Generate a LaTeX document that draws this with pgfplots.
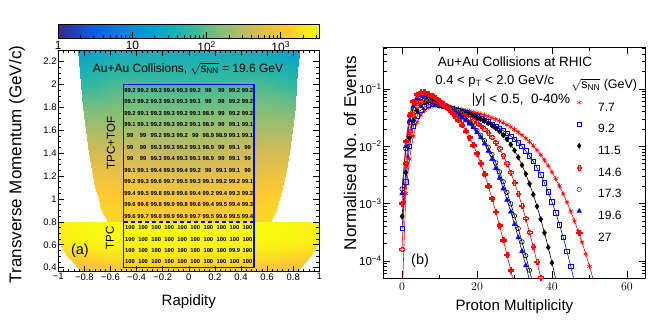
\documentclass[border=0pt]{standalone}
\usepackage{fontspec}
\setmainfont{Liberation Sans}
\usepackage{pgfplots}
\pgfplotsset{compat=1.18}

\newcommand\fs[1]{\fontsize{#1bp}{#1bp}\selectfont}

% ROOT style crosses (open and full)
\def\crosspath{%
  \pgfpathmoveto{\pgfqpoint{-0.35\pgfplotmarksize}{\pgfplotmarksize}}%
  \pgfpathlineto{\pgfqpoint{0.35\pgfplotmarksize}{\pgfplotmarksize}}%
  \pgfpathlineto{\pgfqpoint{0.35\pgfplotmarksize}{0.35\pgfplotmarksize}}%
  \pgfpathlineto{\pgfqpoint{\pgfplotmarksize}{0.35\pgfplotmarksize}}%
  \pgfpathlineto{\pgfqpoint{\pgfplotmarksize}{-0.35\pgfplotmarksize}}%
  \pgfpathlineto{\pgfqpoint{0.35\pgfplotmarksize}{-0.35\pgfplotmarksize}}%
  \pgfpathlineto{\pgfqpoint{0.35\pgfplotmarksize}{-\pgfplotmarksize}}%
  \pgfpathlineto{\pgfqpoint{-0.35\pgfplotmarksize}{-\pgfplotmarksize}}%
  \pgfpathlineto{\pgfqpoint{-0.35\pgfplotmarksize}{-0.35\pgfplotmarksize}}%
  \pgfpathlineto{\pgfqpoint{-\pgfplotmarksize}{-0.35\pgfplotmarksize}}%
  \pgfpathlineto{\pgfqpoint{-\pgfplotmarksize}{0.35\pgfplotmarksize}}%
  \pgfpathlineto{\pgfqpoint{-0.35\pgfplotmarksize}{0.35\pgfplotmarksize}}%
  \pgfpathclose}
\pgfdeclareplotmark{crossopen}{\crosspath\pgfusepathqstroke}
\pgfdeclareplotmark{crossfull}{\crosspath\pgfusepathqfillstroke}

\pgfplotsset{
  rootaxis/.style={scale only axis, axis line style={line width=0.8bp},
    tick align=inside, major tick length=6bp, minor tick length=3bp,
    every tick/.style={black, line width=0.6bp},
    ticklabel style={inner sep=1.5bp}},
  cellnum/.style={only marks, mark=*, mark size=0.01pt, mark options={draw=none, fill=none},
    point meta=explicit symbolic, nodes near coords,
    nodes near coords style={anchor=center, inner sep=0pt, black, font=\fs{5.8}\bfseries}},
  dist/.style={line width=0.6bp, mark size=2.2bp, mark options={solid}},
}

\begin{document}
\begin{tikzpicture}
\useasboundingbox (0,0) rectangle (652bp,326bp);

%%%%%%%%%%%%%%%% (a) acceptance %%%%%%%%%%%%%%%%
\begin{axis}[rootaxis,
  at={(58.3bp,54.3bp)}, anchor=south west, width=261bp, height=221.7bp,
  xmin=-1, xmax=1, ymin=0.365, ymax=2.3,
  xtick={-1,-0.8,-0.6,-0.4,-0.2,0,0.2,0.4,0.6,0.8,1},
  xticklabels={−1,−0.8,−0.6,−0.4,−0.2,0,0.2,0.4,0.6,0.8,1},
  ytick={0.4,0.6,0.8,1,1.2,1.4,1.6,1.8,2,2.2},
  yticklabels={0.4,0.6,0.8,1,1.2,1.4,1.6,1.8,2,2.2},
  minor x tick num=4, minor y tick num=3,
  ticklabel style={font=\fs{9.5}},
  axis on top,
  colormap={bird}{rgb=(0.2082,0.1664,0.5293) rgb=(0.0592,0.3599,0.8684)
    rgb=(0.0780,0.5041,0.8385) rgb=(0.0232,0.6419,0.7914) rgb=(0.1802,0.7178,0.6425)
    rgb=(0.5301,0.7492,0.4662) rgb=(0.8186,0.7328,0.3499) rgb=(0.9956,0.7862,0.1968)
    rgb=(0.9764,0.9832,0.0539)},
  point meta min=0, point meta max=3.52,
  colorbar horizontal,
  colorbar style={
    at={(parent axis.north west)}, anchor=south west, yshift=20.7bp,
    scale only axis, width=261bp, height=13.6bp,
    xtick={0,1,2,3},
    xticklabels={1,10,10\textsuperscript{2},10\textsuperscript{3}},
    minor xtick={0.301,0.477,0.602,0.699,0.778,0.845,0.903,0.954,
      1.301,1.477,1.602,1.699,1.778,1.845,1.903,1.954,
      2.301,2.477,2.602,2.699,2.778,2.845,2.903,2.954,3.301,3.477},
    xtick pos=bottom, xticklabel pos=bottom,
    tick align=inside, major tick length=6bp, minor tick length=3bp,
    every tick/.style={black, line width=0.6bp},
    ticklabel style={font=\fs{12}},
    axis line style={line width=0.6bp}},
  every axis x label/.style={at={(rel axis cs:0.5,-0.1331)}, anchor=center, font=\fs{15}},
  every axis y label/.style={at={(rel axis cs:-0.1582,0.4835)}, rotate=90, anchor=center, font=\fs{17}},
  xlabel={Rapidity}, ylabel={Transverse Momentum (GeV/c)},
]
% TPC only region, log10(counts)
\addplot[surf, shader=interp, mesh/cols=9, point meta=explicit] coordinates {
(-0.83,0.365)[2.9] (-0.6225,0.365)[3.0] (-0.415,0.365)[3.05] (-0.2075,0.365)[3.1] (0,0.365)[3.1] (0.2075,0.365)[3.1] (0.415,0.365)[3.05] (0.6225,0.365)[3.0] (0.83,0.365)[2.9]
(-0.85,0.4)[2.95] (-0.6375,0.4)[3.05] (-0.425,0.4)[3.1] (-0.2125,0.4)[3.15] (0,0.4)[3.15] (0.2125,0.4)[3.15] (0.425,0.4)[3.1] (0.6375,0.4)[3.05] (0.85,0.4)[2.95]
(-0.89,0.45)[3.05] (-0.6675,0.45)[3.15] (-0.445,0.45)[3.2] (-0.2225,0.45)[3.2] (0,0.45)[3.2] (0.2225,0.45)[3.2] (0.445,0.45)[3.2] (0.6675,0.45)[3.15] (0.89,0.45)[3.05]
(-0.93,0.5)[3.15] (-0.6975,0.5)[3.25] (-0.465,0.5)[3.3] (-0.2325,0.5)[3.3] (0,0.5)[3.3] (0.2325,0.5)[3.3] (0.465,0.5)[3.3] (0.6975,0.5)[3.25] (0.93,0.5)[3.15]
(-0.96,0.55)[3.25] (-0.72,0.55)[3.35] (-0.48,0.55)[3.38] (-0.24,0.55)[3.38] (0,0.55)[3.38] (0.24,0.55)[3.38] (0.48,0.55)[3.38] (0.72,0.55)[3.35] (0.96,0.55)[3.25]
(-0.985,0.6)[3.35] (-0.739,0.6)[3.42] (-0.4925,0.6)[3.45] (-0.246,0.6)[3.45] (0,0.6)[3.45] (0.246,0.6)[3.45] (0.4925,0.6)[3.45] (0.739,0.6)[3.42] (0.985,0.6)[3.35]
(-1,0.65)[3.4] (-0.75,0.65)[3.47] (-0.5,0.65)[3.5] (-0.25,0.65)[3.5] (0,0.65)[3.5] (0.25,0.65)[3.5] (0.5,0.65)[3.5] (0.75,0.65)[3.47] (1,0.65)[3.4]
(-1,0.7)[3.42] (-0.75,0.7)[3.5] (-0.5,0.7)[3.52] (-0.25,0.7)[3.52] (0,0.7)[3.52] (0.25,0.7)[3.52] (0.5,0.7)[3.52] (0.75,0.7)[3.5] (1,0.7)[3.42]
(-1,0.8)[3.42] (-0.75,0.8)[3.5] (-0.5,0.8)[3.52] (-0.25,0.8)[3.52] (0,0.8)[3.52] (0.25,0.8)[3.52] (0.5,0.8)[3.52] (0.75,0.8)[3.5] (1,0.8)[3.42]
};
% TPC+TOF region
\addplot[surf, shader=interp, mesh/cols=7, point meta=explicit] coordinates {
(-0.62,0.8)[3.2] (-0.413,0.8)[3.15] (-0.207,0.8)[3.1] (0,0.8)[3.1] (0.207,0.8)[3.1] (0.413,0.8)[3.15] (0.62,0.8)[3.2]
(-0.67,0.9)[3.2] (-0.447,0.9)[3.15] (-0.223,0.9)[3.08] (0,0.9)[3.05] (0.223,0.9)[3.08] (0.447,0.9)[3.15] (0.67,0.9)[3.2]
(-0.69,1.0)[3.15] (-0.46,1.0)[3.08] (-0.23,1.0)[3.0] (0,1.0)[2.97] (0.23,1.0)[3.0] (0.46,1.0)[3.08] (0.69,1.0)[3.15]
(-0.715,1.1)[3.05] (-0.477,1.1)[2.98] (-0.238,1.1)[2.9] (0,1.1)[2.87] (0.238,1.1)[2.9] (0.477,1.1)[2.98] (0.715,1.1)[3.05]
(-0.735,1.2)[2.95] (-0.49,1.2)[2.88] (-0.245,1.2)[2.8] (0,1.2)[2.77] (0.245,1.2)[2.8] (0.49,1.2)[2.88] (0.735,1.2)[2.95]
(-0.765,1.4)[2.7] (-0.51,1.4)[2.65] (-0.255,1.4)[2.58] (0,1.4)[2.55] (0.255,1.4)[2.58] (0.51,1.4)[2.65] (0.765,1.4)[2.7]
(-0.79,1.6)[2.4] (-0.527,1.6)[2.4] (-0.263,1.6)[2.35] (0,1.6)[2.32] (0.263,1.6)[2.35] (0.527,1.6)[2.4] (0.79,1.6)[2.4]
(-0.81,1.8)[2.1] (-0.54,1.8)[2.15] (-0.27,1.8)[2.1] (0,1.8)[2.08] (0.27,1.8)[2.1] (0.54,1.8)[2.15] (0.81,1.8)[2.1]
(-0.825,2.0)[1.75] (-0.55,2.0)[1.9] (-0.275,2.0)[1.87] (0,2.0)[1.85] (0.275,2.0)[1.87] (0.55,2.0)[1.9] (0.825,2.0)[1.75]
(-0.84,2.2)[1.4] (-0.56,2.2)[1.6] (-0.28,2.2)[1.62] (0,2.2)[1.6] (0.28,2.2)[1.62] (0.56,2.2)[1.6] (0.84,2.2)[1.4]
(-0.85,2.3)[1.3] (-0.567,2.3)[1.5] (-0.283,2.3)[1.52] (0,2.3)[1.5] (0.283,2.3)[1.52] (0.567,2.3)[1.5] (0.85,2.3)[1.3]
};
% analysis window
\addplot[blue, line width=1.5bp] coordinates {(-0.5,0.4) (0.5,0.4) (0.5,2) (-0.5,2) (-0.5,0.4)};
\addplot[blue, line width=1.5bp, dash pattern=on 4bp off 3bp] coordinates {(-0.5,0.8) (0.5,0.8)};
% efficiency (%) per cell
\addplot[cellnum] coordinates {(-0.45,1.95)[99.2] (-0.35,1.95)[99.2] (-0.25,1.95)[99.3] (-0.15,1.95)[99.4] (-0.05,1.95)[99.3] (0.05,1.95)[99.2] (0.15,1.95)[99] (0.25,1.95)[99] (0.35,1.95)[99.2] (0.45,1.95)[99.2]};
\addplot[cellnum] coordinates {(-0.45,1.85)[99.2] (-0.35,1.85)[99.2] (-0.25,1.85)[99.3] (-0.15,1.85)[99.3] (-0.05,1.85)[99.3] (0.05,1.85)[99.1] (0.15,1.85)[99] (0.25,1.85)[99] (0.35,1.85)[99.2] (0.45,1.85)[99.2]};
\addplot[cellnum] coordinates {(-0.45,1.75)[99.2] (-0.35,1.75)[99.1] (-0.25,1.75)[99.3] (-0.15,1.75)[99.3] (-0.05,1.75)[99.2] (0.05,1.75)[99.1] (0.15,1.75)[98.9] (0.25,1.75)[99] (0.35,1.75)[99.2] (0.45,1.75)[99.2]};
\addplot[cellnum] coordinates {(-0.45,1.65)[99.1] (-0.35,1.65)[99.1] (-0.25,1.65)[99.2] (-0.15,1.65)[99.3] (-0.05,1.65)[99.2] (0.05,1.65)[99.1] (0.15,1.65)[98.9] (0.25,1.65)[99] (0.35,1.65)[99.1] (0.45,1.65)[99.1]};
\addplot[cellnum] coordinates {(-0.45,1.55)[99] (-0.35,1.55)[99] (-0.25,1.55)[99.2] (-0.15,1.55)[99.3] (-0.05,1.55)[99.2] (0.05,1.55)[99] (0.15,1.55)[98.9] (0.25,1.55)[98.9] (0.35,1.55)[99.1] (0.45,1.55)[99.1]};
\addplot[cellnum] coordinates {(-0.45,1.45)[99] (-0.35,1.45)[99] (-0.25,1.45)[99.3] (-0.15,1.45)[99.3] (-0.05,1.45)[99.2] (0.05,1.45)[99.1] (0.15,1.45)[98.9] (0.25,1.45)[99] (0.35,1.45)[99.1] (0.45,1.45)[99]};
\addplot[cellnum] coordinates {(-0.45,1.35)[99] (-0.35,1.35)[99] (-0.25,1.35)[99.3] (-0.15,1.35)[99.4] (-0.05,1.35)[99.3] (0.05,1.35)[99.1] (0.15,1.35)[98.9] (0.25,1.35)[99] (0.35,1.35)[99.1] (0.45,1.35)[99]};
\addplot[cellnum] coordinates {(-0.45,1.25)[99.1] (-0.35,1.25)[99.1] (-0.25,1.25)[99.4] (-0.15,1.25)[99.5] (-0.05,1.25)[99.4] (0.05,1.25)[99.2] (0.15,1.25)[99] (0.25,1.25)[99.1] (0.35,1.25)[99.1] (0.45,1.25)[99]};
\addplot[cellnum] coordinates {(-0.45,1.15)[99.2] (-0.35,1.15)[99.3] (-0.25,1.15)[99.6] (-0.15,1.15)[99.7] (-0.05,1.15)[99.5] (0.05,1.15)[99.3] (0.15,1.15)[99.1] (0.25,1.15)[99.2] (0.35,1.15)[99.2] (0.45,1.15)[99.1]};
\addplot[cellnum] coordinates {(-0.45,1.05)[99.4] (-0.35,1.05)[99.5] (-0.25,1.05)[99.8] (-0.15,1.05)[99.8] (-0.05,1.05)[99.6] (0.05,1.05)[99.4] (0.15,1.05)[99.2] (0.25,1.05)[99.4] (0.35,1.05)[99.3] (0.45,1.05)[99.2]};
\addplot[cellnum] coordinates {(-0.45,0.95)[99.6] (-0.35,0.95)[99.6] (-0.25,0.95)[99.8] (-0.15,0.95)[99.9] (-0.05,0.95)[99.8] (0.05,0.95)[99.6] (0.15,0.95)[99.4] (0.25,0.95)[99.5] (0.35,0.95)[99.4] (0.45,0.95)[99.3]};
\addplot[cellnum] coordinates {(-0.45,0.85)[99.6] (-0.35,0.85)[99.7] (-0.25,0.85)[99.8] (-0.15,0.85)[99.9] (-0.05,0.85)[99.9] (0.05,0.85)[99.7] (0.15,0.85)[99.5] (0.25,0.85)[99.6] (0.35,0.85)[99.5] (0.45,0.85)[99.4]};
\addplot[cellnum] coordinates {(-0.45,0.75)[100] (-0.35,0.75)[100] (-0.25,0.75)[100] (-0.15,0.75)[100] (-0.05,0.75)[100] (0.05,0.75)[100] (0.15,0.75)[100] (0.25,0.75)[100] (0.35,0.75)[100] (0.45,0.75)[100]};
\addplot[cellnum] coordinates {(-0.45,0.65)[100] (-0.35,0.65)[100] (-0.25,0.65)[100] (-0.15,0.65)[100] (-0.05,0.65)[100] (0.05,0.65)[100] (0.15,0.65)[100] (0.25,0.65)[100] (0.35,0.65)[100] (0.45,0.65)[100]};
\addplot[cellnum] coordinates {(-0.45,0.55)[100] (-0.35,0.55)[100] (-0.25,0.55)[100] (-0.15,0.55)[100] (-0.05,0.55)[100] (0.05,0.55)[100] (0.15,0.55)[100] (0.25,0.55)[100] (0.35,0.55)[99.9] (0.45,0.55)[100]};
\addplot[cellnum] coordinates {(-0.45,0.45)[100] (-0.35,0.45)[100] (-0.25,0.45)[100] (-0.15,0.45)[100] (-0.05,0.45)[100] (0.05,0.45)[100] (0.15,0.45)[100] (0.25,0.45)[100] (0.35,0.45)[100] (0.45,0.45)[100]};

\node[font=\fs{12}] at (rel axis cs:0.497,0.914) {Au+Au Collisions, $\sqrt{\mbox{s}_{\mbox{\fs{8}NN}}}$ = 19.6 GeV};
\node[font=\fs{11.5}, rotate=90] at (rel axis cs:0.202,0.58) {TPC+TOF};
\node[font=\fs{11.5}, rotate=90] at (rel axis cs:0.198,0.152) {TPC};
\node[font=\fs{14.5}] at (rel axis cs:0.083,0.095) {(a)};
\end{axis}

%%%%%%%%%%%%%%%% (b) multiplicity distributions %%%%%%%%%%%%%%%%
\begin{axis}[rootaxis,
  at={(383.3bp,47.7bp)}, anchor=south west, width=262.4bp, height=231bp,
  xmin=-5, xmax=65, ymode=log, ymin=5e-5, ymax=0.53,
  xtick={0,20,40,60}, minor x tick num=1,
  ytick={1e-4,1e-3,1e-2,1e-1},
  yticklabels={10\textsuperscript{−4},10\textsuperscript{−3},10\textsuperscript{−2},10\textsuperscript{−1}},
  minor ytick={6e-5,7e-5,8e-5,9e-5,2e-4,3e-4,4e-4,5e-4,6e-4,7e-4,8e-4,9e-4,
    2e-3,3e-3,4e-3,5e-3,6e-3,7e-3,8e-3,9e-3,2e-2,3e-2,4e-2,5e-2,6e-2,7e-2,8e-2,9e-2,
    2e-1,3e-1,4e-1,5e-1},
  major tick length=7bp, minor tick length=3.5bp,
  ticklabel style={font=\fs{11.5}},
  xticklabel style={yshift=-3bp},
  every axis x label/.style={at={(rel axis cs:0.5,-0.1225)}, anchor=center, font=\fs{15}},
  every axis y label/.style={at={(rel axis cs:-0.1269,0.5424)}, rotate=90, anchor=center, font=\fs{17}},
  xlabel={Proton Multiplicity}, ylabel={Normalised No. of Events},
  legend image code/.code={\path[draw=none, fill=none] (-4bp,0bp) rectangle (19bp,8.6bp);
    \draw[#1] plot coordinates {(0bp,4.3bp)};},
  legend style={at={(0.7306,0.7805)}, anchor=north west, draw=none, fill=none,
    inner sep=0pt, row sep=8.8bp, column sep=0pt,
    nodes={inner sep=0pt, text height=8.6bp, text depth=0pt, font=\fs{12}}},
  legend cell align=left,
]
% 7.7 GeV
\addplot[dist, red, mark=asterisk, mark size=2.6bp, forget plot] coordinates {
(0,2.0e-5) (1,1.5e-3) (2,6.0e-3) (3,1.5e-2) (4,2.6e-2) (5,3.5e-2) (6,4.2e-2) (7,4.7e-2) (8,5.0e-2) (9,5.1e-2)
(10,5.0e-2) (11,4.91e-2) (12,4.81e-2) (13,4.70e-2) (14,4.58e-2) (15,4.47e-2) (16,4.35e-2) (17,4.22e-2) (18,4.08e-2) (19,3.94e-2)
(20,3.80e-2) (21,3.65e-2) (22,3.48e-2) (23,3.31e-2) (24,3.13e-2) (25,2.95e-2) (26,2.76e-2) (27,2.56e-2) (28,2.37e-2) (29,2.16e-2)
(30,1.96e-2) (31,1.75e-2) (32,1.56e-2) (33,1.38e-2) (34,1.20e-2) (35,1.02e-2) (36,8.59e-3) (37,7.08e-3) (38,5.73e-3) (39,4.55e-3)
(40,3.55e-3) (41,2.71e-3) (42,2.03e-3) (43,1.48e-3) (44,1.06e-3) (45,7.38e-4) (46,5.01e-4) (47,3.31e-4) (48,2.13e-4) (49,1.33e-4)
(50,8.09e-5) (51,4.79e-5) (52,2.75e-5)};
% 9.2 GeV
\addplot[dist, blue, mark=square, forget plot] coordinates {
(0,3.7e-4) (1,2.4e-3) (2,1.0e-2) (3,2.2e-2) (4,3.4e-2) (5,4.3e-2) (6,4.9e-2) (7,5.3e-2) (8,5.4e-2) (9,5.4e-2)
(10,5.2e-2) (11,4.99e-2) (12,4.79e-2) (13,4.59e-2) (14,4.40e-2) (15,4.21e-2) (16,4.02e-2) (17,3.83e-2) (18,3.64e-2) (19,3.45e-2)
(20,3.26e-2) (21,3.06e-2) (22,2.86e-2) (23,2.65e-2) (24,2.43e-2) (25,2.25e-2) (26,2.06e-2) (27,1.87e-2) (28,1.68e-2) (29,1.50e-2)
(30,1.32e-2) (31,1.15e-2) (32,9.89e-3) (33,8.32e-3) (34,6.82e-3) (35,5.45e-3) (36,4.22e-3) (37,3.16e-3) (38,2.29e-3) (39,1.60e-3)
(40,1.07e-3) (41,6.93e-4) (42,4.31e-4) (43,2.57e-4) (44,1.48e-4) (45,8.15e-5) (46,4.33e-5) (47,2.2e-5)};
% 11.5 GeV
\addplot[dist, black, mark=diamond*, mark size=2.6bp, forget plot] coordinates {
(0,6.0e-4) (1,3.5e-3) (2,1.4e-2) (3,2.8e-2) (4,4.2e-2) (5,5.2e-2) (6,5.8e-2) (7,6.0e-2) (8,6.0e-2) (9,5.8e-2)
(10,5.5e-2) (11,5.22e-2) (12,4.97e-2) (13,4.72e-2) (14,4.49e-2) (15,4.26e-2) (16,4.04e-2) (17,3.82e-2) (18,3.61e-2) (19,3.40e-2)
(20,3.18e-2) (21,2.97e-2) (22,2.75e-2) (23,2.53e-2) (24,2.30e-2) (25,2.06e-2) (26,1.81e-2) (27,1.56e-2) (28,1.32e-2) (29,1.07e-2)
(30,8.47e-3) (31,6.43e-3) (32,4.69e-3) (33,3.29e-3) (34,2.22e-3) (35,1.44e-3) (36,8.97e-4) (37,5.38e-4) (38,3.11e-4) (39,1.73e-4)
(40,9.31e-5) (41,4.83e-5) (42,2.42e-5)};
% 14.6 GeV
\addplot[dist, red, mark=crossopen, mark size=2.4bp, forget plot] coordinates {
(0,1.6e-4) (1,5.0e-3) (2,1.8e-2) (3,3.5e-2) (4,5.0e-2) (5,6.0e-2) (6,6.5e-2) (7,6.6e-2) (8,6.4e-2) (9,6.1e-2)
(10,5.7e-2) (11,5.32e-2) (12,4.97e-2) (13,4.62e-2) (14,4.30e-2) (15,3.98e-2) (16,3.68e-2) (17,3.39e-2) (18,3.10e-2) (19,2.82e-2)
(20,2.55e-2) (21,2.27e-2) (22,1.99e-2) (23,1.71e-2) (24,1.43e-2) (25,1.16e-2) (26,9.14e-3) (27,6.90e-3) (28,5.00e-3) (29,3.48e-3)
(30,2.32e-3) (31,1.49e-3) (32,9.18e-4) (33,5.48e-4) (34,3.17e-4) (35,1.78e-4) (36,9.70e-5) (37,5.16e-5) (38,2.68e-5)};
% 17.3 GeV
\addplot[dist, black, mark=o, forget plot] coordinates {
(0,1.8e-3) (1,9.0e-3) (2,2.6e-2) (3,4.5e-2) (4,6.2e-2) (5,7.0e-2) (6,7.3e-2) (7,7.2e-2) (8,6.9e-2) (9,6.4e-2)
(10,5.9e-2) (11,5.35e-2) (12,4.84e-2) (13,4.39e-2) (14,3.97e-2) (15,3.59e-2) (16,3.23e-2) (17,2.88e-2) (18,2.55e-2) (19,2.21e-2)
(20,1.88e-2) (21,1.56e-2) (22,1.25e-2) (23,9.66e-3) (24,7.19e-3) (25,5.16e-3) (26,3.58e-3) (27,2.40e-3) (28,1.57e-3) (29,9.93e-4)
(30,6.12e-4) (31,3.68e-4) (32,2.16e-4) (33,1.24e-4) (34,6.92e-5) (35,3.78e-5)};
% 19.6 GeV
\addplot[dist, blue, mark=triangle*, mark size=2.6bp, forget plot] coordinates {
(0,1.5e-3) (1,1.0e-2) (2,2.8e-2) (3,5.0e-2) (4,6.8e-2) (5,7.6e-2) (6,7.8e-2) (7,7.6e-2) (8,7.2e-2) (9,6.6e-2)
(10,6.0e-2) (11,5.41e-2) (12,4.88e-2) (13,4.39e-2) (14,3.95e-2) (15,3.56e-2) (16,3.18e-2) (17,2.82e-2) (18,2.47e-2) (19,2.11e-2)
(20,1.76e-2) (21,1.42e-2) (22,1.10e-2) (23,8.22e-3) (24,5.93e-3) (25,4.13e-3) (26,2.79e-3) (27,1.82e-3) (28,1.16e-3) (29,7.19e-4)
(30,4.35e-4) (31,2.56e-4) (32,1.48e-4) (33,8.34e-5) (34,4.60e-5)};
% 27 GeV
\addplot[dist, red, mark=crossfull, mark size=2.6bp, forget plot] coordinates {
(0,1.0e-3) (1,1.2e-2) (2,3.5e-2) (3,6.0e-2) (4,8.0e-2) (5,8.8e-2) (6,8.7e-2) (7,8.2e-2) (8,7.6e-2) (9,6.9e-2)
(10,6.2e-2) (11,5.43e-2) (12,4.73e-2) (13,4.07e-2) (14,3.45e-2) (15,2.87e-2) (16,2.33e-2) (17,1.85e-2) (18,1.42e-2) (19,1.05e-2)
(20,7.46e-3) (21,5.05e-3) (22,3.26e-3) (23,2.03e-3) (24,1.22e-3) (25,7.21e-4) (26,4.15e-4) (27,2.33e-4) (28,1.28e-4) (29,6.89e-5)
(30,3.61e-5)};

\addlegendimage{red, mark=asterisk, mark size=2.6bp}\addlegendentry{7.7}
\addlegendimage{blue, mark=square, mark size=2.2bp}\addlegendentry{9.2}
\addlegendimage{black, mark=diamond*, mark size=2.6bp}\addlegendentry{11.5}
\addlegendimage{red, mark=crossopen, mark size=2.4bp}\addlegendentry{14.6}
\addlegendimage{black, mark=o, mark size=2.2bp}\addlegendentry{17.3}
\addlegendimage{blue, mark=triangle*, mark size=2.6bp}\addlegendentry{19.6}
\addlegendimage{red, mark=crossfull, mark size=2.6bp}\addlegendentry{27}

\node[font=\fs{13.5}, inner sep=0pt] at (rel axis cs:0.502,0.936) {Au+Au Collisions at RHIC};
\node[font=\fs{13}, inner sep=0pt] at (rel axis cs:0.425,0.855) {0.4 < p\textsubscript{T} < 2.0 GeV/c};
\node[font=\fs{13.5}, inner sep=0pt] at (rel axis cs:0.525,0.772) {|y| < 0.5,\ \ 0-40\%};
\node[font=\fs{12.5}, inner sep=0pt] at (rel axis cs:0.842,0.836) {$\sqrt{\mbox{s}_{\mbox{\fs{8.5}NN}}}$ (GeV)};
\node[font=\fs{14.5}] at (rel axis cs:0.14,0.075) {(b)};
\end{axis}
\end{tikzpicture}
\end{document}
